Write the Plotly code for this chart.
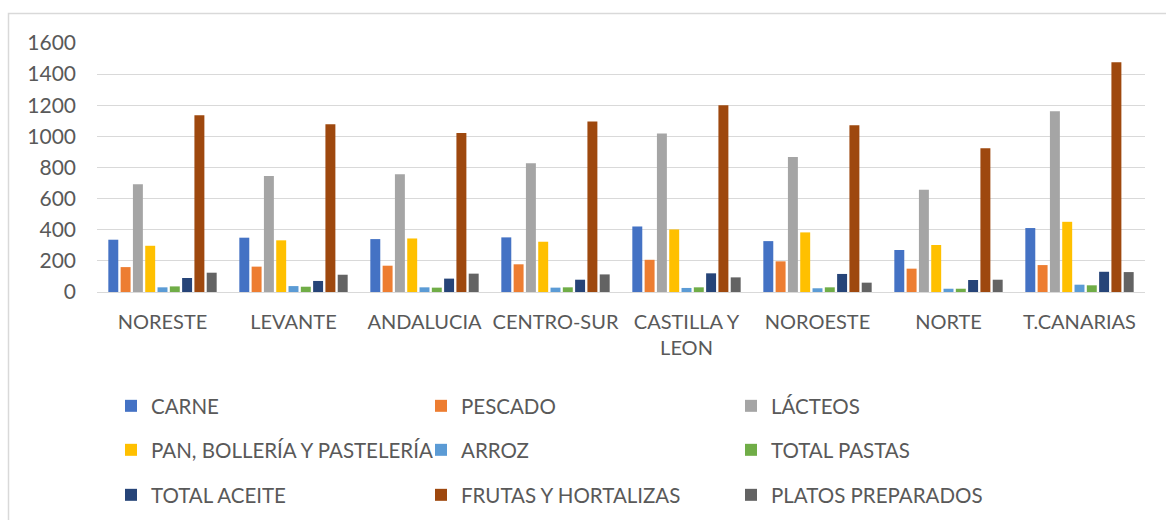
import plotly.graph_objects as go

# Regiones (eje X)
regiones = ["NORESTE", "LEVANTE", "ANDALUCIA", "CENTRO-SUR", "CASTILLA Y<br>LEON",
            "NOROESTE", "NORTE", "T.CANARIAS"]

# Valores por categoría de alimento
carne = [336, 349, 340, 351, 421, 327, 270, 411]
pescado = [160, 163, 169, 178, 207, 197, 150, 173]
lacteos = [693, 746, 757, 828, 1018, 868, 657, 1161]
pan = [297, 332, 344, 323, 402, 383, 302, 451]
arroz = [30, 38, 30, 28, 26, 24, 21, 47]
pastas = [36, 34, 28, 30, 30, 30, 21, 43]
aceite = [90, 71, 86, 79, 120, 116, 77, 130]
frutas = [1136, 1078, 1022, 1095, 1200, 1072, 924, 1476]
platos = [124, 111, 118, 113, 94, 60, 79, 128]

series = [
    ("CARNE", carne, "#4472C4", "legend"),
    ("PESCADO", pescado, "#ED7D31", "legend"),
    ("LÁCTEOS", lacteos, "#A5A5A5", "legend"),
    ("PAN, BOLLERÍA Y PASTELERÍA", pan, "#FFC000", "legend2"),
    ("ARROZ", arroz, "#5B9BD5", "legend2"),
    ("TOTAL PASTAS", pastas, "#70AD47", "legend2"),
    ("TOTAL ACEITE", aceite, "#264478", "legend3"),
    ("FRUTAS Y HORTALIZAS", frutas, "#9E480E", "legend3"),
    ("PLATOS PREPARADOS", platos, "#636363", "legend3"),
]

W, H = 1166, 520
L, R, T, B = 97, 21, 43, 228
pw, ph = W - L - R, H - T - B


def px_x(x):
    return (x - L) / pw


def px_y(y):
    return (H - B - y) / ph


FONT = "Lato, 'Open Sans', sans-serif"
GRIS = "#595959"

fig = go.Figure()
for nombre, vals, color, leg in series:
    fig.add_trace(go.Bar(
        x=regiones, y=vals, name=nombre,
        marker=dict(color=color, line=dict(width=0)),
        legend=leg,
    ))

leg_common = dict(
    orientation="h", xanchor="left", yanchor="middle",
    entrywidth=265, entrywidthmode="pixels",
    font=dict(family=FONT, size=20.5, color=GRIS),
    bgcolor="rgba(0,0,0,0)", traceorder="normal",
)

fig.update_layout(
    width=W, height=H,
    margin=dict(l=L, r=R, t=T, b=B, autoexpand=False),
    paper_bgcolor="white", plot_bgcolor="white",
    barmode="group", bargap=0.155, bargroupgap=0.19,
    font=dict(family=FONT, color=GRIS),
    xaxis=dict(
        showgrid=False, showline=True, linecolor="#D9D9D9", linewidth=1,
        tickfont=dict(family=FONT, size=20, color=GRIS),
        ticks="", ticklabelstandoff=12,
    ),
    yaxis=dict(
        range=[0, 1600], dtick=200, showgrid=True, gridcolor="#D9D9D9", gridwidth=1,
        zeroline=False, showline=False,
        tickfont=dict(family=FONT, size=21, color=GRIS),
        ticks="", ticklabelstandoff=20,
    ),
    legend=dict(**leg_common, x=px_x(111), y=px_y(406)),
    legend2=dict(**leg_common, x=px_x(111), y=px_y(450)),
    legend3=dict(**leg_common, x=px_x(111), y=px_y(495)),
    shapes=[dict(
        type="rect", xref="paper", yref="paper",
        x0=px_x(8.5), x1=px_x(1175), y0=px_y(530), y1=px_y(13.5),
        line=dict(color="#D9D9D9", width=1.5), fillcolor="rgba(0,0,0,0)", layer="below",
    )],
)

# quitar el margen por defecto del body para que la figura empiece en (0, 0)
fig.write_html("out.html", config={"displayModeBar": False},
               post_script="document.body.style.margin='0px';")
